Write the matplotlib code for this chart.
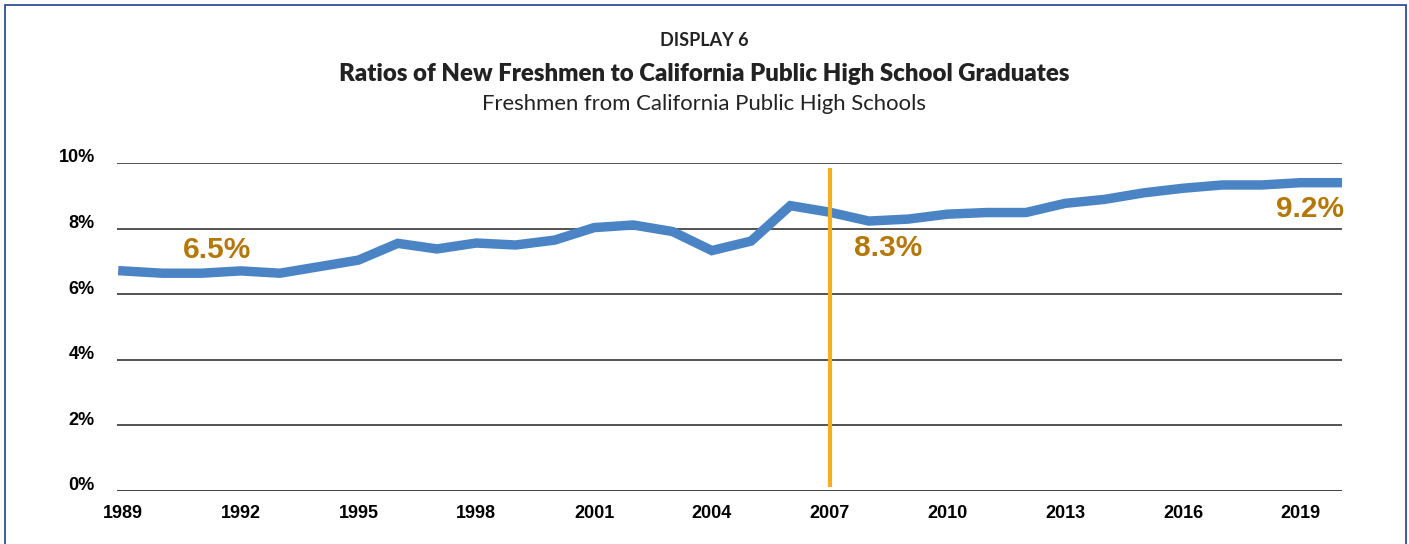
import matplotlib.pyplot as plt
from matplotlib.patches import Rectangle
from matplotlib.transforms import ScaledTranslation

# data (ratio in %)
years = list(range(1989, 2021))
ratio = [6.71, 6.64, 6.64, 6.71, 6.64, 6.84, 7.04, 7.55, 7.38, 7.56,
         7.50, 7.65, 8.03, 8.11, 7.91, 7.33, 7.62, 8.70, 8.50, 8.23,
         8.29, 8.44, 8.49, 8.49, 8.77, 8.89, 9.09, 9.23, 9.33, 9.33,
         9.40, 9.40]
tick_years = list(range(1989, 2020, 3))
y_ticks = [0, 2, 4, 6, 8, 10]
marker_year = 2007

# callouts: text, x, y, alignment
callouts = [("6.5%", 1991.4, 7.35, "center"),
            ("8.3%", 2008.5, 7.41, "center"),
            ("9.2%", 2020.1, 8.61, "right")]

blue = "#4A84C4"
gold = "#F2B01E"
label_col = "#B47708"
narrow = ["Liberation Sans Narrow", "Liberation Sans", "DejaVu Sans"]

fig = plt.figure(figsize=(14.09, 5.44), dpi=100)
ax = fig.add_axes([117 / 1409, 1 - 491 / 544, (1342 - 117) / 1409, (491 - 163) / 544])

# frame around the whole display
fig.patches.append(Rectangle((5 / 1409, -0.05), 1401 / 1409, 1.05 - 5 / 544,
                             transform=fig.transFigure, fill=False,
                             edgecolor="#2E4E9E", linewidth=1.3))

for y in y_ticks:
    ax.axhline(y, color="#444444" if y else "#333333", linewidth=1.3, zorder=1)

ax.plot(years, ratio, color=blue, linewidth=6.8, solid_joinstyle="miter", zorder=3)
ax.vlines(marker_year, 0.12, 9.85, color=gold, linewidth=3, zorder=4)

for txt, x, y, ha in callouts:
    ax.text(x, y, txt, color=label_col, fontsize=21.5, fontweight="bold",
            family=["Liberation Sans", "DejaVu Sans"], ha=ha, va="center")

ax.set_xlim(1988.85, 2020.05)
ax.set_ylim(0, 10)
ax.set_xticks(tick_years)
ax.set_xticklabels([str(y) for y in tick_years])
ax.set_yticks(y_ticks)
ax.set_yticklabels([f"{y}%" for y in y_ticks])
ax.tick_params(length=0)
ax.tick_params(axis="x", pad=10)
ax.tick_params(axis="y", pad=16)
for lab in ax.get_xticklabels() + ax.get_yticklabels():
    lab.set_family(narrow)
    lab.set_fontweight("bold")
    lab.set_fontsize(13)
for lab in ax.get_yticklabels():
    lab.set_transform(lab.get_transform() + ScaledTranslation(0, 7 / 100, fig.dpi_scale_trans))
for s in ax.spines.values():
    s.set_visible(False)

fig.text(0.5, 1 - 40 / 544, "DISPLAY 6", ha="center", va="center",
         fontsize=13, fontweight="bold", family="Lato", color="#222222")
fig.text(0.5, 1 - 74 / 544, "Ratios of New Freshmen to California Public High School Graduates",
         ha="center", va="center", fontsize=17.3, fontweight="heavy", family="Lato", color="#222222")
fig.text(0.5, 1 - 104 / 544, "Freshmen from California Public High Schools",
         ha="center", va="center", fontsize=15.9, family="Lato", color="#222222")

fig.savefig("out.png", dpi=100)
